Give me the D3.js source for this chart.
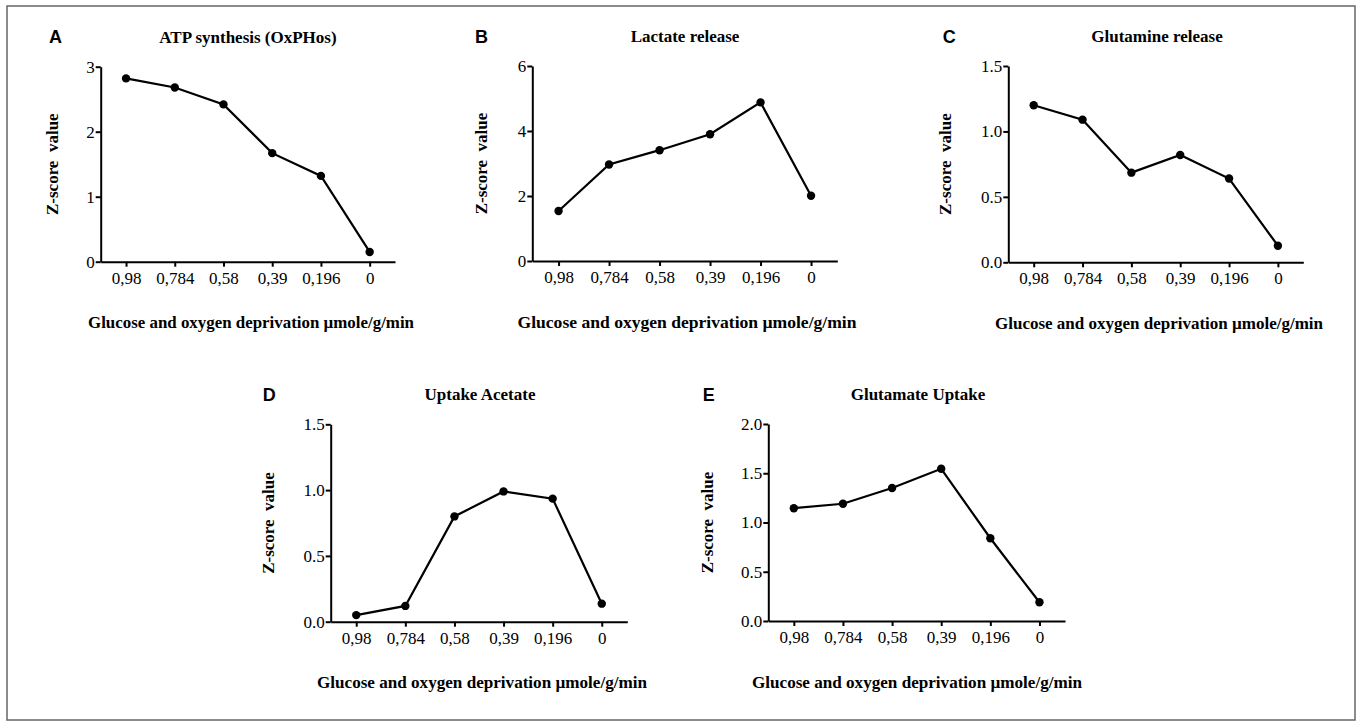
<!DOCTYPE html>
<html>
<head>
<meta charset="utf-8">
<script src="https://cdn.jsdelivr.net/npm/d3@7"></script>
<style>
  body { margin: 0; background: #fff; }
  svg text { fill: #000; }
  .axis path, .axis line { stroke: #000; stroke-width: 2px; }
  .axis text { font-family: "Liberation Serif", "Times New Roman", serif; font-size: 17px; }
</style>
</head>
<body>
<script>
// doses on the x axis (same for every panel)
var categories = ["0,98", "0,784", "0,58", "0,39", "0,196", "0"];

// z-score values
var atpValues       = [2.82, 2.68, 2.42, 1.67, 1.32, 0.15];
var lactateValues   = [1.54, 2.97, 3.41, 3.90, 4.88, 2.01];
var glutamineValues = [1.20, 1.09, 0.685, 0.82, 0.64, 0.127];
var acetateValues   = [0.05, 0.12, 0.80, 0.99, 0.935, 0.137];
var glutamateValues = [1.145, 1.19, 1.35, 1.545, 0.84, 0.19];

// y axis ticks
var ticksA = [0, 1, 2, 3];
var ticksB = [0, 2, 4, 6];
var ticksC = [0, 0.5, 1.0, 1.5];
var ticksD = [0, 0.5, 1.0, 1.5];
var ticksE = [0, 0.5, 1.0, 1.5, 2.0];

var titles = ["ATP synthesis (OxPHos)", "Lactate release", "Glutamine release", "Uptake Acetate", "Glutamate Uptake"];
var letters = ["A", "B", "C", "D", "E"];
var xLabel = "Glucose and oxygen deprivation \u00b5mole/g/min";
var yLabel = "Z-score\u00a0\u00a0value";

// panel layout (pixels)
var panels = [
    { values: atpValues, ticks: ticksA, fmt: "d", x0: 100.7, x1: 395, y0: 66.7, y1: 261.7, titleX: 248, letterX: 49, yTitleX: 58, labelX: 251, labelW: 326 },
    { values: lactateValues, ticks: ticksB, fmt: "d", x0: 532.3, x1: 837.3, y0: 66, y1: 261, titleX: 685, letterX: 475, yTitleX: 487, labelX: 687, labelW: 339 },
    { values: glutamineValues, ticks: ticksC, fmt: ".1f", x0: 1008.3, x1: 1303.3, y0: 66, y1: 262.3, titleX: 1157, letterX: 942.7, yTitleX: 951, labelX: 1159, labelW: 328 },
    { values: acetateValues, ticks: ticksD, fmt: ".1f", x0: 330.7, x1: 627.3, y0: 424.3, y1: 621.7, titleX: 480, letterX: 262.7, yTitleX: 273.5, labelX: 482, labelW: 330 },
    { values: glutamateValues, ticks: ticksE, fmt: ".1f", x0: 768.3, x1: 1065, y0: 424, y1: 621, titleX: 918, letterX: 702.7, yTitleX: 712.7, labelX: 917, labelW: 330 }
];

var svg = d3.select("body").append("svg").attr("width", 1360).attr("height", 724);

svg.append("rect")
    .attr("x", 7).attr("y", 6).attr("width", 1348).attr("height", 714)
    .attr("fill", "none").attr("stroke", "#666").attr("stroke-width", 1.5);

panels.forEach(function(p, i) {
    var g = svg.append("g");

    var x = d3.scalePoint().domain(categories).range([p.x0, p.x1]).padding(0.52);
    var y = d3.scaleLinear().domain([0, d3.max(p.ticks)]).range([p.y1, p.y0]);

    g.append("g")
        .attr("class", "axis")
        .attr("transform", "translate(0," + p.y1 + ")")
        .call(d3.axisBottom(x).tickSize(5).tickSizeOuter(0).tickPadding(5));

    g.append("g")
        .attr("class", "axis")
        .attr("transform", "translate(" + p.x0 + ",0)")
        .call(d3.axisLeft(y).tickValues(p.ticks).tickFormat(d3.format(p.fmt)).tickSize(5).tickSizeOuter(0).tickPadding(1));

    var line = d3.line()
        .x(function(d, j) { return x(categories[j]); })
        .y(function(d) { return y(d); });

    g.append("path")
        .datum(p.values)
        .attr("d", line)
        .attr("fill", "none")
        .attr("stroke", "#000")
        .attr("stroke-width", 2.2);

    g.selectAll("circle")
        .data(p.values)
        .enter()
        .append("circle")
        .attr("cx", function(d, j) { return x(categories[j]); })
        .attr("cy", function(d) { return y(d); })
        .attr("r", 4.2)
        .attr("fill", "#000");

    // panel letter
    g.append("text")
        .attr("x", p.letterX).attr("y", p.y0 - 23.5)
        .attr("font-family", "Liberation Sans, Arial, sans-serif")
        .attr("font-weight", "bold").attr("font-size", 18)
        .text(letters[i]);

    // title
    g.append("text")
        .attr("x", p.titleX).attr("y", p.y0 - 24)
        .attr("text-anchor", "middle")
        .attr("font-family", "Liberation Serif, Times New Roman, serif")
        .attr("font-weight", "bold").attr("font-size", 17)
        .text(titles[i]);

    // y axis title
    g.append("text")
        .attr("transform", "translate(" + p.yTitleX + "," + ((p.y0 + p.y1) / 2) + ") rotate(-90)")
        .attr("text-anchor", "middle")
        .attr("font-family", "Liberation Serif, Times New Roman, serif")
        .attr("font-weight", "bold").attr("font-size", 17)
        .text(yLabel);

    // x axis title
    g.append("text")
        .attr("x", p.labelX - p.labelW / 2).attr("y", p.y1 + 66.5)
        .attr("textLength", p.labelW)
        .attr("lengthAdjust", "spacingAndGlyphs")
        .attr("font-family", "Liberation Serif, Times New Roman, serif")
        .attr("font-weight", "bold").attr("font-size", 17)
        .text(xLabel);
});
</script>
</body>
</html>
